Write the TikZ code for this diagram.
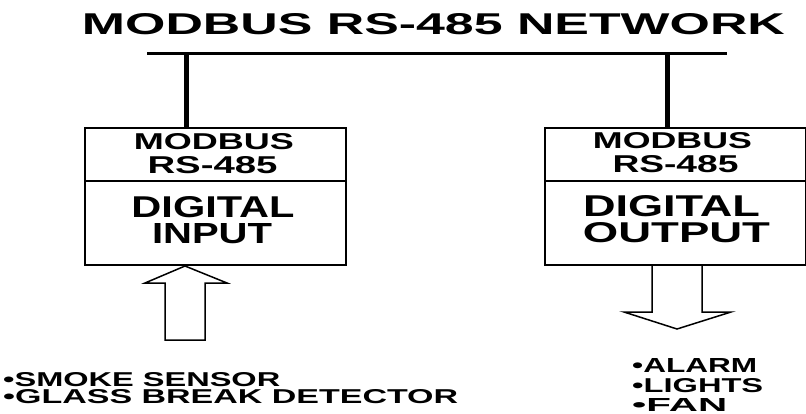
\documentclass[tikz,border=0pt]{standalone}
\usepackage{fontspec}
\usepackage{graphicx}
\setmainfont{Liberation Sans}
\newcommand{\rstxt}[3]{\resizebox{#1pt}{#2pt}{\bfseries #3}}
\tikzset{
  sect/.style={draw, line width=2pt, minimum width=261pt, inner sep=0pt},
  lbl/.style={inner sep=0pt, anchor=base},
  lblw/.style={inner sep=0pt, anchor=base west},
  bus/.style={line width=3pt},
  tap/.style={line width=5pt},
  bigarrow/.style={draw, line width=1.5pt, line join=miter, fill=white},
}
\begin{document}
\begin{tikzpicture}[x=1pt, y=-1pt]
\useasboundingbox (0,0) rectangle (806,413);
% title
\node[lbl] (title) at (433.5,34) {\rstxt{703}{21}{MODBUS RS-485 NETWORK}};
% boxes
\node[sect, minimum height=53pt] (lmod) at (215.5,154.5) {};
\node[sect, minimum height=84pt] (lin)  at (215.5,223) {};
\node[sect, minimum height=53pt] (rmod) at (675,154.5) {};
\node[sect, minimum height=84pt] (rout) at (675,223) {};
% bus
\coordinate (busL) at (147,53);
\coordinate (busR) at (727,53);
\coordinate (tapL) at (186,53);
\coordinate (tapR) at (667,53);
\draw[bus] (busL) -- (busR);
\draw[tap] (tapL) -- (tapL |- lmod.north);
\draw[tap] (tapR) -- (tapR |- rmod.north);
% box texts
\node[lbl] (lt1) at (214,149) {\rstxt{160}{16}{MODBUS}};
\node[lbl] (lt2) at (212.5,173) {\rstxt{130}{17}{RS-485}};
\node[lbl] (lt3) at (213,217) {\rstxt{163}{21}{DIGITAL}};
\node[lbl] (lt4) at (212,243) {\rstxt{120}{20}{INPUT}};
\node[lbl] (rt1) at (672.5,148) {\rstxt{159}{16}{MODBUS}};
\node[lbl] (rt2) at (675.5,172) {\rstxt{126}{17}{RS-485}};
\node[lbl] (rt3) at (671.5,216) {\rstxt{177}{21}{DIGITAL}};
\node[lbl] (rt4) at (676.5,242) {\rstxt{187}{20}{OUTPUT}};
% arrows
\coordinate (tipIn) at (185,266);
\draw[bigarrow] (tipIn) -- (227,283) -- (205,283) -- (205,340) -- (165,340) -- (165,283) -- (145,283) -- cycle;
\coordinate (tipOut) at (677,329);
\draw[bigarrow] (652,266) -- (652,312) -- (624,312) -- (tipOut) -- (731,312) -- (702,312) -- (702,266);
% lists
\node[lblw] (s1) at (3,386) {\rstxt{277}{14}{•SMOKE SENSOR}};
\node[lblw] (s2) at (3,403) {\rstxt{455}{14}{•GLASS BREAK DETECTOR}};
\node[lblw] (o1) at (632,372) {\rstxt{125}{14}{•ALARM}};
\node[lblw] (o2) at (632,392) {\rstxt{131}{14}{•LIGHTS}};
\node[lblw] (o3) at (632,411) {\rstxt{95}{13}{•FAN}};
\end{tikzpicture}
\end{document}
